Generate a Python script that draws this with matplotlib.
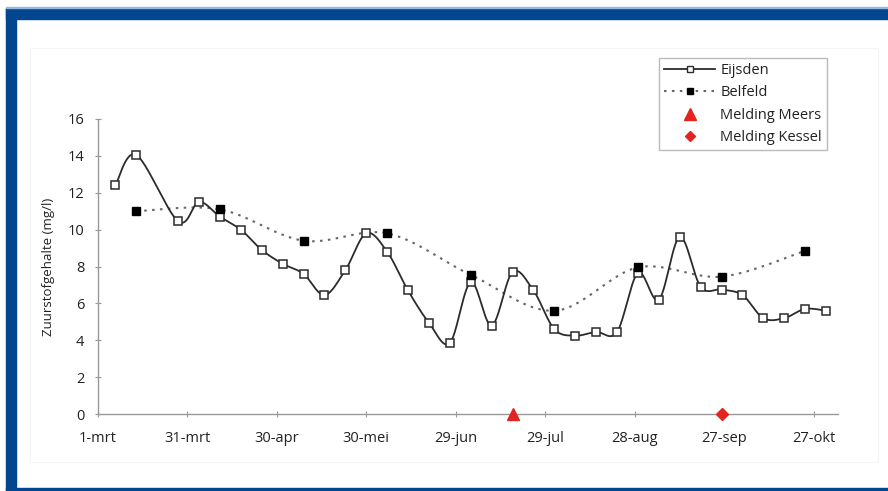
import matplotlib as mpl
mpl.use('Agg')
import matplotlib.pyplot as plt
from matplotlib.patches import Rectangle
from matplotlib.lines import Line2D
import numpy as np

mpl.rcParams['font.family'] = ['Open Sans', 'DejaVu Sans']

# dagen na 1 maart
eijsden_dag = [6, 13, 27, 34, 41, 48, 55, 62, 69, 76, 83, 90, 97, 104, 111, 118, 125,
               132, 139, 146, 153, 160, 167, 174, 181, 188, 195, 202, 209, 216, 223,
               230, 237, 244]
eijsden_o2 = [12.4, 14.05, 10.45, 11.5, 10.7, 10.0, 8.9, 8.15, 7.6, 6.45, 7.8, 9.8,
              8.8, 6.7, 4.95, 3.85, 7.15, 4.8, 7.7, 6.7, 4.6, 4.25, 4.45, 4.45, 7.65,
              6.2, 9.6, 6.9, 6.75, 6.45, 5.2, 5.2, 5.7, 5.6]
belfeld_dag = [13, 41, 69, 97, 125, 153, 181, 209, 237]
belfeld_o2 = [11.0, 11.1, 9.4, 9.8, 7.55, 5.6, 7.95, 7.45, 8.85]
meers_dag = [139]
kessel_dag = [209]
melding_o2 = [0]

tick_dag = [0, 30, 60, 90, 120, 150, 180, 210, 240]
tick_labels = ['1-mrt', '31-mrt', '30-apr', '30-mei', '29-jun', '29-jul',
               '28-aug', '27-sep', '27-okt']
y_ticks = [0, 2, 4, 6, 8, 10, 12, 14, 16]


def smooth(xs, ys, n=30):
  # bezier smoothing zoals in Excel (catmull-rom)
  p = np.column_stack([xs, ys]).astype(float)
  out = []
  for i in range(len(p) - 1):
    p0 = p[i - 1] if i > 0 else p[i]
    p3 = p[i + 2] if i + 2 < len(p) else p[i + 1]
    c1 = p[i] + (p[i + 1] - p0) / 6.0
    c2 = p[i + 1] - (p3 - p[i]) / 6.0
    t = np.linspace(0, 1, n)[:, None]
    seg = ((1 - t) ** 3 * p[i] + 3 * (1 - t) ** 2 * t * c1
           + 3 * (1 - t) * t ** 2 * c2 + t ** 3 * p[i + 1])
    out.append(seg if i == 0 else seg[1:])
  out = np.vstack(out)
  return out[:, 0], out[:, 1]


fig = plt.figure(figsize=(8.88, 4.91), dpi=100)
W, H = 888.0, 491.0

# blauwe kader
blue = '#01468f'
fig.patches.append(Rectangle((6 / W, 1 - 19 / H), 1, 11 / H, transform=fig.transFigure,
                             color=blue, zorder=0))
fig.patches.append(Rectangle((6 / W, 0), 10 / W, 1 - 8 / H, transform=fig.transFigure,
                             color=blue, zorder=0))
fig.patches.append(Rectangle((6 / W, 0), 1, 3 / H, transform=fig.transFigure,
                             color=blue, zorder=0))
fig.patches.append(Rectangle((6 / W, 1 - 8 / H), 1, 1 / H, transform=fig.transFigure,
                             color='#9ab8dd', zorder=0))
fig.patches.append(Rectangle((30 / W, 1 - 462 / H), 848 / W, 414 / H,
                             transform=fig.transFigure, fill=False, ec='#f5f5f5',
                             lw=0.8, zorder=0))

ax = fig.add_axes([97.5 / W, 1 - 414 / H, (838 - 97.5) / W, (414 - 119) / H])

sx, sy = smooth(eijsden_dag, eijsden_o2)
ax.plot(sx, sy, color='#2b2b2b', lw=1.3, zorder=3)
ax.plot(eijsden_dag, eijsden_o2, ls='none', marker='s', ms=6, mfc='white',
        mec='#2b2b2b', mew=1.1, zorder=4)

bx, by = smooth(belfeld_dag, belfeld_o2)
ax.plot(bx, by, color='#666666', lw=1.5, ls=(0, (1.2, 2.6)), zorder=2)
ax.plot(belfeld_dag, belfeld_o2, ls='none', marker='s', ms=6, color='black', zorder=5)

ax.plot(meers_dag, melding_o2, ls='none', marker='^', ms=8.5, color='#e32420',
        clip_on=False, zorder=6)
ax.plot(kessel_dag, melding_o2, ls='none', marker='D', ms=6, color='#e32420',
        clip_on=False, zorder=6)

ax.set_xlim(0, 248)
ax.set_ylim(0, 16)
ax.set_xticks(tick_dag)
ax.set_xticklabels(tick_labels)
ax.set_yticks(y_ticks)
for s in ['top', 'right']:
  ax.spines[s].set_visible(False)
for s in ['left', 'bottom']:
  ax.spines[s].set_color('#999999')
  ax.spines[s].set_linewidth(1.0)
ax.tick_params(axis='both', direction='inout', length=5, width=0.8, color='#999999',
               labelsize=10.5, labelcolor='#222222')
ax.tick_params(axis='x', pad=10)
ax.tick_params(axis='y', pad=7)
ax.set_ylabel('Zuurstofgehalte (mg/l)', fontsize=9.5, color='#222222', labelpad=9)

handles = [
  Line2D([], [], color='#2b2b2b', lw=1.3, marker='s', ms=5, mfc='white', mec='#2b2b2b'),
  Line2D([], [], color='#666666', lw=1.5, ls=(0, (1.2, 2.6)), marker='s', ms=5,
         mfc='black', mec='black'),
  Line2D([], [], ls='none', marker='^', ms=8, color='#e32420'),
  Line2D([], [], ls='none', marker='D', ms=5.5, color='#e32420'),
]
leg = fig.legend(handles, ['Eijsden', 'Belfeld', 'Melding Meers', 'Melding Kessel'],
                 loc='upper left', bbox_to_anchor=(659 / W, 1 - 58 / H),
                 bbox_transform=fig.transFigure, fontsize=10.5, frameon=True,
                 fancybox=False, edgecolor='#aaaaaa', handlelength=3.5,
                 borderpad=0.35, labelspacing=0.5, handletextpad=0.35,
                 borderaxespad=0)
leg.get_frame().set_linewidth(1.0)
for t in leg.get_texts():
  t.set_color('#222222')

plt.savefig('out.png', dpi=100)
